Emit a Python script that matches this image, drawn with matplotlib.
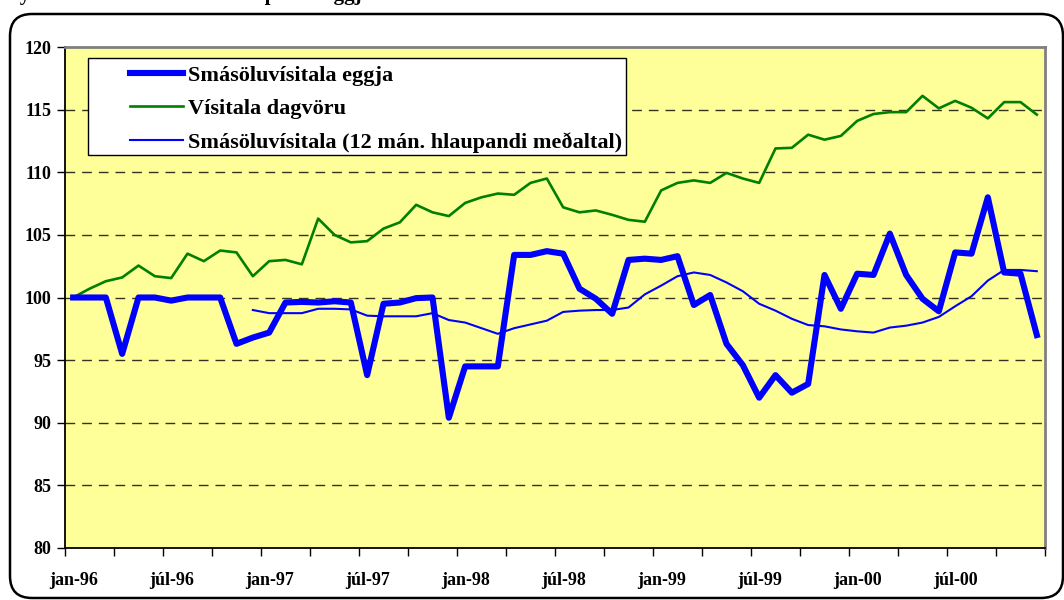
import numpy as np
import matplotlib
matplotlib.use("Agg")
import matplotlib.pyplot as plt
from matplotlib.patches import FancyBboxPatch, Rectangle
from matplotlib.ticker import FixedLocator, NullFormatter

plt.rcParams["font.family"] = ["Liberation Serif", "DejaVu Serif"]
plt.rcParams["font.weight"] = "bold"

# jan-96 .. des-00, monthly
n_months = 60
tick_labels = ["jan-96", "júl-96", "jan-97", "júl-97", "jan-98", "júl-98",
               "jan-99", "júl-99", "jan-00", "júl-00"]

# Smásöluvísitala eggja
egg = [100.0, 100.0, 100.0, 95.5, 100.0, 100.0, 99.75, 100.0, 100.0, 100.0,
       96.3, 96.8, 97.2, 99.6, 99.65, 99.6, 99.7, 99.6, 93.8, 99.5,
       99.6, 99.95, 100.0, 90.4, 94.5, 94.5, 94.5, 103.4, 103.4, 103.7,
       103.5, 100.7, 99.9, 98.7, 103.0, 103.1, 103.0, 103.3, 99.4, 100.2,
       96.3, 94.6, 92.0, 93.8, 92.4, 93.1, 101.8, 99.1, 101.9, 101.8,
       105.1, 101.8, 99.9, 98.9, 103.6, 103.5, 108.0, 102.0, 101.9, 97.0]

# Vísitala dagvöru
dagvoru = [100.0, 100.7, 101.3, 101.6, 102.55, 101.7, 101.55, 103.5, 102.9, 103.75,
           103.6, 101.7, 102.9, 103.0, 102.65, 106.3, 105.0, 104.4, 104.5, 105.5,
           106.0, 107.4, 106.8, 106.5, 107.55, 108.0, 108.3, 108.2, 109.15, 109.5,
           107.2, 106.8, 106.95, 106.6, 106.2, 106.05, 108.55, 109.15, 109.35, 109.15,
           109.95, 109.5, 109.15, 111.9, 111.95, 113.0, 112.6, 112.9, 114.1, 114.65,
           114.8, 114.8, 116.1, 115.1, 115.7, 115.15, 114.3, 115.6, 115.6, 114.6]

# Smásöluvísitala (12 mán. hlaupandi meðaltal), starts in month 12
hlaupandi = [np.nan] * 11 + [
    99.0, 98.75, 98.75, 98.75, 99.1, 99.1, 99.05, 98.55, 98.5,
    98.5, 98.5, 98.75, 98.2, 98.0, 97.55, 97.1, 97.55, 97.85, 98.15,
    98.85, 98.95, 99.0, 99.0, 99.2, 100.25, 100.95, 101.7, 102.0, 101.8,
    101.2, 100.5, 99.5, 98.95, 98.3, 97.8, 97.7, 97.45, 97.3, 97.2,
    97.6, 97.75, 98.0, 98.45, 99.3, 100.1, 101.35, 102.2, 102.2, 102.1]

x = np.arange(n_months)

fig = plt.figure(figsize=(10.64, 6.0), dpi=100)

# rounded frame round the whole chart
frame = FancyBboxPatch((0.10, 0.02), 10.53, 5.84,
                       boxstyle="round,pad=0,rounding_size=0.22",
                       transform=fig.dpi_scale_trans, facecolor="none",
                       edgecolor="black", linewidth=1.8, zorder=-1)
fig.patches.append(frame)

# title, mostly cut off at the top of the picture
fig.text(0.0, 1.0, "Mynd 1. Samanburður á verðþróun eggja", fontsize=15,
         fontweight="bold", ha="left", va="baseline")

ax = fig.add_axes([65 / 1064, 52 / 600, 980 / 1064, 501 / 600])
ax.set_facecolor("#FFFF99")

ax.plot(x, egg, color="#0000FF", linewidth=4.4, solid_joinstyle="round",
        label="Smásöluvísitala eggja", zorder=4)
ax.plot(x, dagvoru, color="#008000", linewidth=1.9,
        label="Vísitala dagvöru", zorder=3)
ax.plot(x, hlaupandi, color="#0000FF", linewidth=1.5,
        label="Smásöluvísitala (12 mán. hlaupandi meðaltal)", zorder=3)

ax.set_xlim(-0.5, n_months - 0.5)
ax.set_ylim(80, 120)
ax.set_yticks(np.arange(80, 121, 5))
for v in range(85, 120, 5):
    ax.axhline(v, color="black", linewidth=1.0, linestyle=(0, (7, 5)),
               alpha=0.8, zorder=1)

# ticks between months every quarter, labels every half year
ax.xaxis.set_major_locator(FixedLocator(np.arange(-0.5, n_months, 3)))
ax.xaxis.set_major_formatter(NullFormatter())
ax.set_xticks(np.arange(0, n_months, 6), minor=True)
ax.set_xticklabels(tick_labels, minor=True)
ax.tick_params(axis="x", which="major", direction="out", length=6, width=1)
ax.tick_params(axis="x", which="minor", length=0, pad=17, labelsize=13)
ax.tick_params(axis="y", direction="out", length=6, width=1, labelsize=13,
               pad=4)
for lab in ax.get_xticklabels(minor=True) + ax.get_yticklabels():
    lab.set_fontweight("bold")

ax.spines["left"].set_linewidth(1.3)
ax.spines["bottom"].set_linewidth(1.3)
ax.spines["top"].set_color("#808080")
ax.spines["right"].set_color("#808080")
ax.spines["top"].set_linewidth(2)
ax.spines["right"].set_linewidth(2)

# legend box drawn by hand, the legend itself has no frame
box = Rectangle((0.0235, 0.7844), 0.5489, 0.1936, transform=ax.transAxes,
                facecolor="white", edgecolor="black", linewidth=1.0, zorder=5)
ax.add_patch(box)
leg = ax.legend(loc="upper left", bbox_to_anchor=(0.0663, 0.964),
                frameon=False, prop={"weight": "bold", "size": 16},
                handlelength=2.4, handletextpad=0.22, borderpad=0,
                labelspacing=0.58, borderaxespad=0)
leg.set_zorder(6)

fig.savefig("out.png", dpi=100)
